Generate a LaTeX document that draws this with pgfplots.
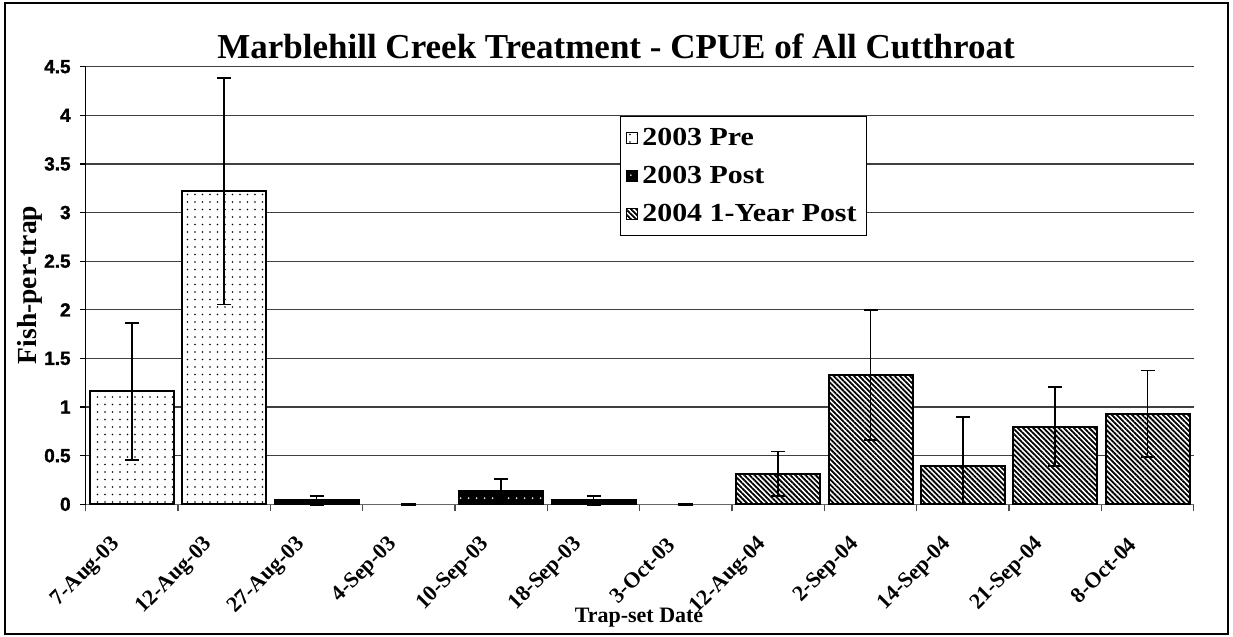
\documentclass[border=0pt]{standalone}
\usepackage{fontspec}
\setmainfont{Liberation Serif}
\setsansfont{Liberation Sans}
\newfontfamily\tickfont{Liberation Sans Bold}[FakeBold=1.5]
\newcommand\tickB{\tickfont\fontsize{9.5}{11}\selectfont}
\usepackage{graphicx}
\usepackage{pgfplots}
\pgfplotsset{compat=1.18}
\usetikzlibrary{patterns.meta}
\newcommand\sx[1]{\scalebox{1.15}[1]{#1}}
\pgfplotsset{sq legend/.style={legend image code/.code={\draw[##1, line width=0.5pt] (0pt,-2.75pt) rectangle (5.5pt,2.75pt);}}}
\begin{document}
\begin{tikzpicture}
\path (0,0) rectangle (616.5pt,318.5pt);
\draw[line width=1pt] (2.5pt,1.5pt) rectangle (614pt,317pt);
\begin{axis}[
  at={(42.85pt,66.35pt)}, anchor=south west,
  scale only axis, width=554pt, height=218.8pt,
  xmin=-0.5, xmax=11.5, ymin=0, ymax=4.5,
  axis lines*=left,
  clip=false,
  xtick={0,...,11},
  xticklabels={7-Aug-03,12-Aug-03,27-Aug-03,4-Sep-03,10-Sep-03,18-Sep-03,3-Oct-03,12-Aug-04,2-Sep-04,14-Sep-04,21-Sep-04,8-Oct-04},
  minor xtick={-0.5,0.5,...,11.5},
  major x tick style={draw=none},
  minor x tick style={black!70, line width=0.6pt},
  minor tick length=3.5pt,
  major tick length=3pt,
  tick align=outside,
  ytick={0,0.5,1,1.5,2,2.5,3,3.5,4,4.5},
  yticklabels={{\tickB 0},{\tickB 0.5},{\tickB 1},{\tickB 1.5},{\tickB 2},{\tickB 2.5},{\tickB 3},{\tickB 3.5},{\tickB 4},{\tickB 4.5}},
  ytick style={black, line width=0.6pt},
  ymajorgrids, y grid style={black!75, line width=0.6pt},
  x axis line style={black!60, line width=0.6pt},
  y axis line style={black, line width=0.8pt},
  yticklabel style={xshift=-1pt},
  xticklabel style={font=\bfseries\fontsize{11}{13}\selectfont, xshift=-5pt, rotate=45, anchor=east},
  xticklabel shift=13pt,
  legend cell align=left,
  legend style={at={(0.482,0.887)}, anchor=north west, draw=black, line width=0.6pt,
    font=\bfseries\fontsize{13}{15}\selectfont, row sep=5pt, inner xsep=3pt, inner ysep=3.5pt},
]
\addplot[ybar, bar width=0.91, bar shift=0pt, draw=black, line width=1pt, fill=white,
  postaction={pattern={Dots[distance=3.75pt,radius=0.45pt]}, pattern color=black}, sq legend,
  error bars/.cd, y dir=both, y explicit,
  error bar style={line width=0.75pt, black},
  error mark options={rotate=90, mark size=3.5pt, line width=0.75pt, black}]
  coordinates {(0,1.16) +- (0,0.705) (1,3.22) +- (0,1.165)};
\addlegendentry{\sx{2003 Pre}}
\addplot[ybar, bar width=0.91, bar shift=0pt, draw=black, line width=1pt, fill=black,
  postaction={pattern={Dots[distance=3.85pt,radius=0.45pt]}, pattern color=white}, sq legend,
  error bars/.cd, y dir=both, y explicit,
  error bar style={line width=0.75pt, black},
  error mark options={rotate=90, mark size=3.5pt, line width=0.75pt, black}]
  coordinates {(2,0.04) +- (0,0.045) (4,0.14) +- (0,0.12) (5,0.04) +- (0,0.045)};
\addlegendentry{\sx{2003 Post}}
\addplot[ybar, bar width=0.91, bar shift=0pt, draw=black, line width=1pt, fill=white,
  postaction={pattern={Lines[angle=-45,distance=1.8pt,line width=0.9pt]}, pattern color=black}, sq legend,
  error bars/.cd, y dir=both, y explicit,
  error bar style={line width=0.75pt, black},
  error mark options={rotate=90, mark size=3.5pt, line width=0.75pt, black}]
  coordinates {(7,0.315) +- (0,0.23) (8,1.33) +- (0,0.67) (9,0.39) +=(0,0.51) -=(0,0.39) (10,0.80) +- (0,0.405) (11,0.93) +- (0,0.445)};
\addlegendentry{\sx{2004 1-Year Post}}
\addplot[only marks, mark=-, mark size=3.75pt, mark options={line width=1.5pt, black}, forget plot]
  coordinates {(3,0) (6,0)};
\end{axis}
\node[anchor=base, font=\bfseries\fontsize{17.5}{20}\selectfont] at (308pt,289pt) {Marblehill Creek Treatment - CPUE of All Cutthroat};
\node[rotate=90, anchor=base, font=\bfseries\fontsize{13.8}{16}\selectfont] at (18pt,176pt) {Fish-per-trap};
\node[anchor=base, font=\bfseries\fontsize{11}{13}\selectfont] at (319.5pt,7.15pt) {Trap-set Date};
\end{tikzpicture}
\end{document}
